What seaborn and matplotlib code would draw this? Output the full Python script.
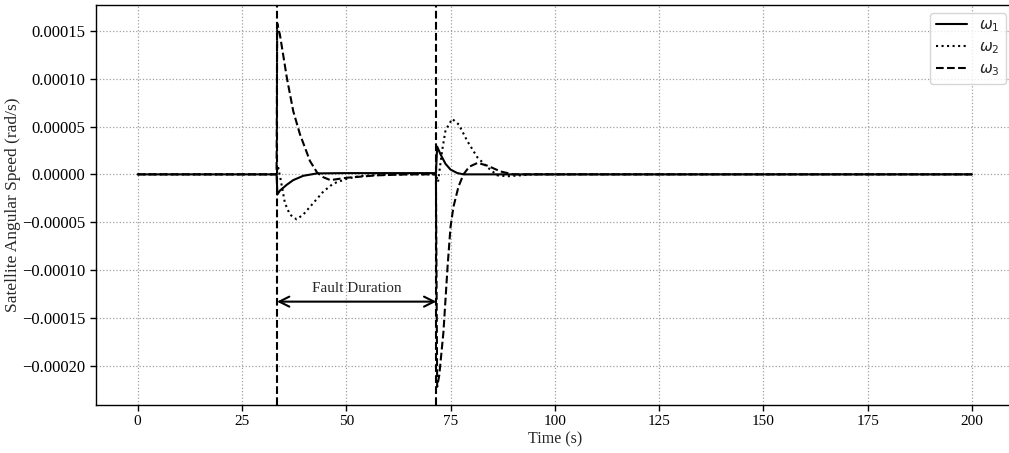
import matplotlib
matplotlib.use("Agg")
import matplotlib.pyplot as plt
import seaborn as sns
from matplotlib.ticker import FuncFormatter, MultipleLocator

# ---- data ----
fault_start = 33.4
fault_end = 71.6

w1_t = [0, 33.3, 33.5, 34.1, 35.7, 37.3, 39.7, 43.0, 50, 60, 71.5, 71.8, 72.6, 73.8, 75.0, 76.6, 78.1, 200]
w1_v = [0, 0, -2.1e-5, -1.7e-5, -1.1e-5, -6e-6, -1.5e-6, 1.0e-6, 1.3e-6, 1.3e-6, 1.3e-6,
        2.9e-5, 2.1e-5, 1.1e-5, 5e-6, 1.4e-6, 0, 0]

w2_t = [0, 33.3, 33.6, 34.3, 35.3, 36.5, 38.1, 39.7, 42.1, 44.5, 46.9, 50.2, 53.4, 58, 65,
        71.5, 72.0, 73.0, 73.8, 75.4, 77.0, 79.0, 81.4, 83.8, 86.2, 88.6, 91.8, 95, 200]
w2_v = [0, 0, 9e-6, -6e-6, -3e-5, -4.2e-5, -4.7e-5, -4.2e-5, -3e-5, -1.8e-5, -9.6e-6, -4.5e-6,
        -1.7e-6, -5e-7, 0, 0, -8e-6, 2.5e-5, 4.6e-5, 5.8e-5, 5.2e-5, 3.5e-5, 1.8e-5, 7.6e-6,
        -1e-6, -2e-6, -1e-6, 0, 0]

w3_t = [0, 33.3, 33.45, 34.1, 35.8, 37.3, 38.9, 41.3, 43.0, 44.5, 46.2, 50.2, 57.5, 65,
        71.5, 71.8, 72.3, 73.3, 74.3, 75.0, 75.7, 76.9, 78.1, 79.5, 81.5, 83.9, 87.0, 90.0, 200]
w3_v = [0, 0, 1.58e-4, 1.46e-4, 1.0e-4, 6.6e-5, 4.2e-5, 1.4e-5, 2e-6, -3e-6, -6e-6, -3.5e-6,
        -1e-6, 0, 0, -2.22e-4, -2.1e-4, -1.65e-4, -9.6e-5, -5.5e-5, -3.4e-5, -1.3e-5, 0, 8e-6,
        1.2e-5, 9e-6, 3e-6, 0, 0]

x_ticks = [0, 25, 50, 75, 100, 125, 150, 175, 200]

# ---- styling ----
sns.set_theme(style="ticks")
plt.rcParams["font.family"] = ["Liberation Serif", "DejaVu Serif"]
plt.rcParams["mathtext.fontset"] = "dejavusans"

fig = plt.figure(figsize=(10.09, 4.53), dpi=100)
ax = fig.add_axes([0.0951, 0.106, 0.9095, 0.883])

sns.lineplot(x=w1_t, y=w1_v, ax=ax, color="black", linewidth=1.5, linestyle="-",
             estimator=None, sort=False, label=r"$\omega_1$")
sns.lineplot(x=w2_t, y=w2_v, ax=ax, color="black", linewidth=1.5, linestyle=":",
             estimator=None, sort=False, label=r"$\omega_2$")
sns.lineplot(x=w3_t, y=w3_v, ax=ax, color="black", linewidth=1.5, linestyle="--",
             estimator=None, sort=False, label=r"$\omega_3$")

ax.axvline(fault_start, color="black", linestyle="--", linewidth=1.5)
ax.axvline(fault_end, color="black", linestyle="--", linewidth=1.5)

arrow_y = -1.33e-4
ax.annotate("", xy=(fault_start, arrow_y), xytext=(fault_end, arrow_y),
            arrowprops=dict(arrowstyle="<->", color="black", lw=1.5, mutation_scale=18,
                            shrinkA=0, shrinkB=0))
ax.text((fault_start + fault_end) / 2, -1.19e-4, "Fault Duration", ha="center", va="center",
        fontsize=11)

ax.set_xlim(-10, 210)
ax.set_xticks(x_ticks)
ax.yaxis.set_major_locator(MultipleLocator(5e-5))
ax.yaxis.set_major_formatter(FuncFormatter(lambda v, p: ("%.5f" % v).replace("-", "\u2212")
                                           if abs(v) > 1e-12 else "0.00000"))

ax.grid(True, linestyle=":", color="#a0a0a0", linewidth=0.9)
for s in ax.spines.values():
    s.set_color("black")
    s.set_linewidth(1.0)
ax.tick_params(axis="both", colors="black", length=4, width=1)
ax.tick_params(axis="x", labelsize=11)
ax.tick_params(axis="y", labelsize=12)

ax.set_xlabel("Time (s)", fontsize=11.5, labelpad=2)
ax.set_ylabel("Satellite Angular Speed (rad/s)", fontsize=12.5)
ax.yaxis.set_label_coords(-0.082, 0.5)

ax.legend(loc="upper right", fontsize=11, frameon=True, fancybox=True, framealpha=0.8,
          edgecolor="#cccccc", handlelength=2.0, labelspacing=0.4)

fig.savefig("out.png", dpi=100)
